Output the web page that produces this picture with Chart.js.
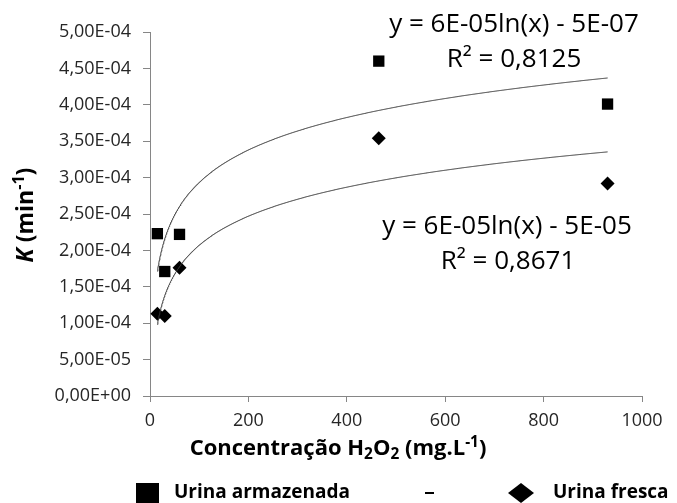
<!DOCTYPE html>
<html>
<head>
<meta charset="utf-8">
<script src="https://cdn.jsdelivr.net/npm/chart.js@4.4.1/dist/chart.umd.min.js"></script>
<style>
  html, body { margin: 0; background: #fff; }
  #wrap { width: 677px; height: 503px; }
</style>
</head>
<body>
<div id="wrap"><canvas id="chart"></canvas></div>
<script>
// data
const conc = [15, 30, 60, 465, 930];
const kStored = [2.23e-4, 1.71e-4, 2.22e-4, 4.60e-4, 4.01e-4];
const kFresh = [1.13e-4, 1.10e-4, 1.76e-4, 3.54e-4, 2.92e-4];
const seriesNames = ["Urina armazenada", "Urina fresca"];
const eqStored = ["y = 6E-05ln(x) - 5E-07", "R² = 0,8125"];
const eqFresh = ["y = 6E-05ln(x) - 5E-05", "R² = 0,8671"];

const FONT = "'Open Sans', sans-serif";
const TXT = "#000";

// log fit y = a ln(x) + b, least squares
function logFit(xs, ys) {
  const lx = xs.map(Math.log);
  const mx = lx.reduce((s, v) => s + v, 0) / lx.length;
  const my = ys.reduce((s, v) => s + v, 0) / ys.length;
  let sxy = 0, sxx = 0;
  lx.forEach((v, i) => { sxy += (v - mx) * (ys[i] - my); sxx += (v - mx) * (v - mx); });
  const a = sxy / sxx;
  return { a: a, b: my - a * mx };
}

function trendPoints(xs, ys) {
  const f = logFit(xs, ys);
  const pts = [];
  const lo = Math.min(...xs), hi = Math.max(...xs);
  for (let x = lo; x <= hi; x += 1) pts.push({ x: x, y: f.a * Math.log(x) + f.b });
  return pts;
}

function toXY(xs, ys) {
  return xs.map((x, i) => ({ x: x, y: ys[i] }));
}

function fmtSci(v) {
  if (Math.abs(v) < 1e-12) return "0,00E+00";
  const s = v.toExponential(2).split("e");
  const e = parseInt(s[1], 10);
  const ee = (e < 0 ? "-" : "+") + String(Math.abs(e)).padStart(2, "0");
  return s[0].replace(".", ",") + "E" + ee;
}

// draws a run of text parts: {t, bold, italic, sub, sup}
function drawRuns(ctx, parts, x, y, size, align) {
  const fontOf = (p) => {
    const sz = (p.sub || p.sup) ? size * 0.7 : size;
    return (p.italic ? "italic " : "") + (p.bold ? "bold " : "") + sz + "px " + FONT;
  };
  let w = 0;
  parts.forEach(p => { ctx.font = fontOf(p); w += ctx.measureText(p.t).width; });
  let cx = align === "center" ? x - w / 2 : x;
  ctx.textAlign = "left";
  ctx.textBaseline = "middle";
  parts.forEach(p => {
    ctx.font = fontOf(p);
    let dy = 0;
    if (p.sub) dy = size * 0.25;
    if (p.sup) dy = -size * 0.28;
    ctx.fillText(p.t, cx, y + dy);
    cx += ctx.measureText(p.t).width;
  });
}

const extras = {
  id: "extras",
  afterDraw(chart) {
    const ctx = chart.ctx;
    ctx.save();
    ctx.fillStyle = TXT;

    // trend equations
    ctx.font = "26px " + FONT;
    ctx.textAlign = "center";
    ctx.textBaseline = "middle";
    ctx.fillText(eqStored[0], 514, 25);
    ctx.fillText(eqStored[1], 514, 60);
    ctx.fillText(eqFresh[0], 507, 227);
    ctx.fillText(eqFresh[1], 508, 262);

    // y axis title
    ctx.save();
    ctx.translate(26, 215);
    ctx.rotate(-Math.PI / 2);
    drawRuns(ctx, [
      { t: "K", bold: true, italic: true },
      { t: " (min", bold: true },
      { t: "-1", bold: true, sup: true },
      { t: ")", bold: true }
    ], 0, 0, 23, "center");
    ctx.restore();

    // x axis title
    drawRuns(ctx, [
      { t: "Concentração H", bold: true },
      { t: "2", bold: true, sub: true },
      { t: "O", bold: true },
      { t: "2", bold: true, sub: true },
      { t: " (mg.L", bold: true },
      { t: "-1", bold: true, sup: true },
      { t: ")", bold: true }
    ], 338, 449, 22, "center");

    // legend
    const ly = 493;
    ctx.fillRect(136, ly - 10, 23, 21);
    ctx.font = "bold 19px " + FONT;
    ctx.textAlign = "left";
    ctx.textBaseline = "middle";
    ctx.fillText(seriesNames[0], 174, ly);
    ctx.fillRect(425, ly - 1, 9, 2);
    ctx.beginPath();
    ctx.moveTo(521, ly - 10);
    ctx.lineTo(534, ly);
    ctx.lineTo(521, ly + 10);
    ctx.lineTo(508, ly);
    ctx.closePath();
    ctx.fill();
    ctx.fillText(seriesNames[1], 553, ly);
    ctx.restore();
  }
};

const ctx = document.getElementById("chart").getContext("2d");
new Chart(ctx, {
  type: "scatter",
  data: {
    datasets: [
      {
        label: "trend1",
        type: "line",
        data: trendPoints(conc, kStored),
        borderColor: "#333",
        borderWidth: 1,
        pointRadius: 0,
        fill: false
      },
      {
        label: "trend2",
        type: "line",
        data: trendPoints(conc, kFresh),
        borderColor: "#333",
        borderWidth: 1,
        pointRadius: 0,
        fill: false
      },
      {
        label: seriesNames[0],
        data: toXY(conc, kStored),
        pointStyle: "rect",
        pointRadius: 8,
        backgroundColor: "#000",
        borderColor: "#000",
        borderWidth: 0
      },
      {
        label: seriesNames[1],
        data: toXY(conc, kFresh),
        pointStyle: "rectRot",
        pointRadius: 7,
        backgroundColor: "#000",
        borderColor: "#000",
        borderWidth: 0
      }
    ]
  },
  options: {
    responsive: true,
    maintainAspectRatio: false,
    animation: false,
    layout: { padding: { top: 32, right: 35, left: 0, bottom: 0 } },
    plugins: {
      legend: { display: false },
      tooltip: { enabled: false }
    },
    scales: {
      x: {
        type: "linear",
        min: 0,
        max: 1000,
        ticks: { stepSize: 200, color: "#262626", font: { family: FONT, size: 18 }, padding: 8, maxRotation: 0, callback: v => String(v) },
        grid: { drawOnChartArea: false, tickLength: 6, color: "#868686" },
        border: { color: "#868686" },
        afterFit(s) { s.height = 107; }
      },
      y: {
        min: 0,
        max: 5e-4,
        ticks: { stepSize: 5e-5, color: "#262626", font: { family: FONT, size: 18 }, padding: 12, callback: v => fmtSci(v) },
        grid: { drawOnChartArea: false, tickLength: 7, color: "#868686" },
        border: { color: "#868686" },
        afterFit(s) { s.width = 150; }
      }
    }
  },
  plugins: [extras]
});
</script>
</body>
</html>
